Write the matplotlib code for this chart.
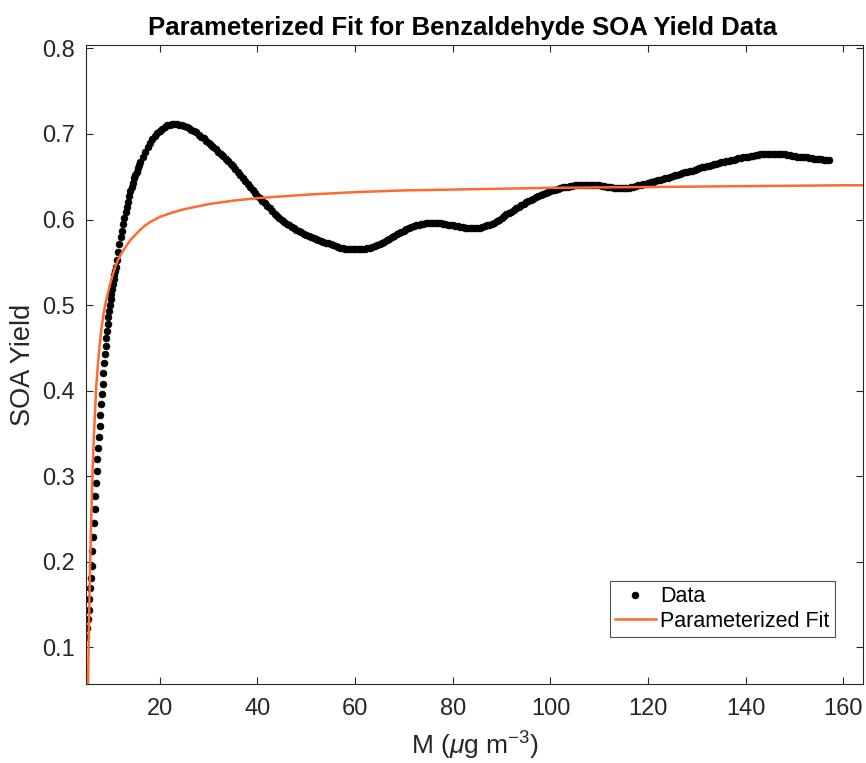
import numpy as np
import matplotlib
matplotlib.use("Agg")
import matplotlib.pyplot as plt

plt.rcParams['font.family'] = ['Liberation Sans', 'DejaVu Sans']
plt.rcParams['mathtext.fontset'] = 'custom'
plt.rcParams['mathtext.rm'] = 'Liberation Sans'
plt.rcParams['mathtext.it'] = 'Liberation Sans:italic'

# ---- Data ----
m_a = [5.0, 5.15, 5.3, 5.45, 5.6, 5.75, 5.9, 6.05, 6.2, 6.35, 6.5, 6.65, 6.8,
       6.95, 7.1, 7.25, 7.4, 7.55, 7.7, 7.85, 8.0, 8.15, 8.3, 8.45, 8.6, 8.75,
       8.9, 9.05, 9.2, 9.35, 9.5, 9.65, 9.8, 9.95, 10.1, 10.25, 10.4, 10.55,
       10.7, 10.85, 11.0]
y_a = [0.112, 0.1225, 0.133, 0.144, 0.156, 0.169, 0.1815, 0.1955, 0.212, 0.2285,
       0.245, 0.261, 0.277, 0.292, 0.306, 0.3195, 0.333, 0.346, 0.3585, 0.371,
       0.384, 0.396, 0.408, 0.420, 0.432, 0.4425, 0.4525, 0.462, 0.470, 0.478,
       0.486, 0.4935, 0.500, 0.507, 0.513, 0.519, 0.525, 0.530, 0.5355, 0.540,
       0.545]

m_b = [11.25, 11.5, 11.75, 12.0, 12.25, 12.5, 12.75, 13.0, 13.25, 13.5, 13.75,
       14.0, 14.25, 14.5, 14.75, 15.0, 15.25, 15.5, 15.75, 16.0]
y_b = [0.553, 0.562, 0.571, 0.579, 0.587, 0.595, 0.602, 0.609, 0.615, 0.621,
       0.627, 0.633, 0.638, 0.643, 0.648, 0.652, 0.656, 0.660, 0.664, 0.667]

m_c = [16.5, 17.0, 17.5, 18.0, 18.5, 19.0, 19.5, 20.0, 20.5, 21.0, 21.5, 22.0,
       22.5, 23.0, 23.5, 24.0, 24.5, 25.0, 25.5, 26.0, 26.5, 27.0, 27.5, 28.0,
       28.5, 29.0, 29.5, 30.0]
y_c = [0.673, 0.679, 0.685, 0.690, 0.694, 0.698, 0.701, 0.704, 0.706, 0.708,
       0.710, 0.711, 0.712, 0.712, 0.712, 0.711, 0.710, 0.709, 0.708, 0.707,
       0.705, 0.704, 0.702, 0.699, 0.697, 0.695, 0.692, 0.690]

# M = 30.5 ... 157.0 in steps of 0.5
y_d = [
    0.6875, 0.685, 0.682, 0.679, 0.6765, 0.674, 0.671, 0.668, 0.665, 0.662,   # 30.5-35
    0.6585, 0.655, 0.6515, 0.648, 0.6445, 0.641, 0.6375, 0.634, 0.631, 0.628,  # 35.5-40
    0.625, 0.622, 0.619, 0.616, 0.613, 0.610, 0.607, 0.604, 0.6015, 0.599,     # 40.5-45
    0.597, 0.595, 0.593, 0.591, 0.5895, 0.588, 0.5865, 0.585, 0.5835, 0.582,   # 45.5-50
    0.5805, 0.579, 0.578, 0.577, 0.576, 0.575, 0.574, 0.573, 0.572, 0.571,     # 50.5-55
    0.570, 0.569, 0.568, 0.567, 0.5665, 0.566, 0.5655, 0.565, 0.565, 0.565,    # 55.5-60
    0.565, 0.565, 0.5655, 0.566, 0.5665, 0.567, 0.568, 0.569, 0.570, 0.571,    # 60.5-65
    0.5725, 0.574, 0.5755, 0.577, 0.579, 0.581, 0.5825, 0.584, 0.5855, 0.587,  # 65.5-70
    0.5885, 0.590, 0.591, 0.592, 0.593, 0.594, 0.5945, 0.595, 0.5955, 0.596,   # 70.5-75
    0.596, 0.596, 0.596, 0.596, 0.5955, 0.595, 0.5945, 0.594, 0.5935, 0.593,   # 75.5-80
    0.5925, 0.592, 0.5915, 0.591, 0.5905, 0.590, 0.590, 0.590, 0.590, 0.590,   # 80.5-85
    0.5905, 0.591, 0.592, 0.593, 0.594, 0.595, 0.5965, 0.598, 0.600, 0.602,    # 85.5-90
    0.604, 0.606, 0.6075, 0.609, 0.611, 0.613, 0.615, 0.617, 0.6185, 0.620,    # 90.5-95
    0.6215, 0.623, 0.6245, 0.626, 0.6275, 0.629, 0.630, 0.631, 0.632, 0.633,   # 95.5-100
    0.634, 0.635, 0.636, 0.637, 0.6375, 0.638, 0.6385, 0.639, 0.6395, 0.640,   # 100.5-105
    0.640, 0.640, 0.640, 0.640, 0.640, 0.640, 0.640, 0.640, 0.640, 0.640,      # 105.5-110
    0.6395, 0.639, 0.6385, 0.638, 0.6375, 0.637, 0.637, 0.637, 0.637, 0.637,   # 110.5-115
    0.637, 0.637, 0.6375, 0.638, 0.639, 0.640, 0.6405, 0.641, 0.642, 0.643,    # 115.5-120
    0.6435, 0.644, 0.645, 0.646, 0.6465, 0.647, 0.648, 0.649, 0.650, 0.651,    # 120.5-125
    0.6515, 0.652, 0.653, 0.654, 0.655, 0.656, 0.6565, 0.657, 0.658, 0.659,    # 125.5-130
    0.660, 0.661, 0.6615, 0.662, 0.663, 0.664, 0.6645, 0.665, 0.666, 0.667,    # 130.5-135
    0.6675, 0.668, 0.6685, 0.669, 0.670, 0.671, 0.6715, 0.672, 0.6725, 0.673,  # 135.5-140
    0.6735, 0.674, 0.6745, 0.675, 0.6755, 0.676, 0.676, 0.676, 0.676, 0.676,   # 140.5-145
    0.676, 0.676, 0.676, 0.676, 0.676, 0.676, 0.6755, 0.675, 0.6745, 0.674,    # 145.5-150
    0.6735, 0.673, 0.673, 0.673, 0.6725, 0.672, 0.6715, 0.671, 0.671, 0.671,   # 150.5-155
    0.6705, 0.670, 0.670, 0.670,                                                # 155.5-157
]
m_d = [30.5 + 0.5 * i for i in range(len(y_d))]

# Parameterized fit curve
fit_m = [5.25, 5.5, 5.75, 6.0, 6.25, 6.5, 7.0, 7.5, 8.0, 8.5, 9.0, 10.0, 11.0,
         12.0, 13.0, 14.0, 15.0, 16.0, 17.0, 18.0, 19.0, 20.0, 21.0, 22.5,
         25.0, 27.5, 30.0, 35.0, 40.0, 50.0, 60.0, 70.0, 80.0, 90.0, 100.0,
         110.0, 120.0, 130.0, 140.0, 150.0, 160.0, 165.0]
fit_y = [0.030, 0.125, 0.195, 0.255, 0.305, 0.345, 0.405, 0.442, 0.470, 0.490,
         0.505, 0.528, 0.547, 0.559, 0.568, 0.576, 0.582, 0.588, 0.593, 0.597,
         0.600, 0.603, 0.605, 0.608, 0.612, 0.615, 0.618, 0.622, 0.625, 0.629,
         0.632, 0.634, 0.635, 0.636, 0.637, 0.6375, 0.638, 0.6385, 0.639,
         0.6395, 0.640, 0.640]

xticks = [20, 40, 60, 80, 100, 120, 140, 160]
yticks = [0.1, 0.2, 0.3, 0.4, 0.5, 0.6, 0.7, 0.8]

data_m = m_a + m_b + m_c + m_d
data_y = y_a + y_b + y_c + y_d

# ---- Figure ----
fig = plt.figure(figsize=(8.66, 7.63), dpi=100)
ax = fig.add_axes([86/866, 1-684/763, (863-86)/866, (684-45)/763])

axcol = '#262626'
ax.plot(data_m, data_y, linestyle='none', marker='o', markersize=5.0,
        markerfacecolor='black', markeredgecolor='black', markeredgewidth=0.4,
        label='Data', zorder=2)
ax.plot(fit_m, fit_y, color='#FF6A30', linewidth=1.8, label='Parameterized Fit',
        zorder=3)

ax.set_xlim(4.9, 164)
ax.set_ylim(0.057, 0.804)
ax.set_xticks(xticks)
ax.set_yticks(yticks)
ax.set_xticklabels([str(t) for t in xticks])
ax.set_yticklabels([f"{t:.1f}" for t in yticks])

ax.tick_params(direction='in', length=5, width=0.8, colors=axcol,
               labelsize=17, top=True, right=True)
ax.tick_params(axis='x', pad=10)
ax.tick_params(axis='y', pad=8)
for s in ax.spines.values():
    s.set_color(axcol)
    s.set_linewidth(0.8)

ax.set_xlabel(r'M ($\mu$g m$^{-3}$)', fontsize=19, color=axcol, labelpad=7)
ax.set_ylabel('SOA Yield', fontsize=19.5, color=axcol, labelpad=4)
ax.set_title('Parameterized Fit for Benzaldehyde SOA Yield Data',
             fontsize=18.5, fontweight='bold', color='black', pad=7, x=0.484)

leg = ax.legend(loc='lower right', bbox_to_anchor=(835/866, 1-637/763),
                bbox_transform=fig.transFigure, fontsize=15.5, frameon=True,
                fancybox=False, edgecolor=axcol, borderpad=0.25,
                handlelength=1.9, handletextpad=0.2, labelspacing=0.15,
                borderaxespad=0)
leg.get_frame().set_linewidth(0.8)
for t in leg.get_texts():
    t.set_color('black')

fig.savefig('out.png', dpi=100)
